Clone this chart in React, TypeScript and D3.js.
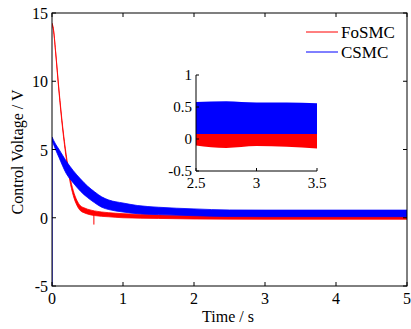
import React, { useEffect, useRef } from 'react';
import * as d3 from 'd3';

// FoSMC (red) envelope
const redTime = [0, 0.02, 0.05, 0.1, 0.15, 0.2, 0.25, 0.3, 0.35, 0.4, 0.45, 0.5, 0.6, 0.8, 1.0, 1.5, 2, 3, 4, 5];
const redLow = [14.15, 13.75, 12.15, 9.12, 6.5, 4.38, 2.75, 1.62, 0.92, 0.52, 0.37, 0.27, 0.16, 0.07, 0.0, -0.05, -0.09, -0.11, -0.11, -0.11];
const redHigh = [14.25, 13.85, 12.25, 9.28, 6.7, 4.62, 3.05, 1.98, 1.28, 0.88, 0.73, 0.63, 0.5, 0.37, 0.3, 0.21, 0.17, 0.15, 0.15, 0.15];
// single downward spike near t = 0.6
const redSpikeTime = [0.59, 0.59];
const redSpikeValue = [0.3, -0.5];

// CSMC (blue) envelope
const blueTime = [0, 0.05, 0.1, 0.2, 0.3, 0.4, 0.5, 0.6, 0.7, 0.8, 1.0, 1.2, 1.5, 2.0, 2.5, 3, 4, 5];
const blueLow = [5.68, 5.0, 4.4, 3.25, 2.55, 1.95, 1.48, 1.1, 0.77, 0.6, 0.42, 0.3, 0.23, 0.15, 0.09, 0.08, 0.08, 0.08];
const blueHigh = [5.92, 5.4, 5.0, 4.15, 3.45, 2.85, 2.32, 1.9, 1.53, 1.3, 1.08, 0.9, 0.77, 0.65, 0.57, 0.56, 0.56, 0.56];
const blueStartTime = [0, 0];
const blueStartValue = [-5, 5.8];

// zoomed inset, 2.5 s .. 3.5 s
const insetTime = [2.5, 2.75, 3, 3.25, 3.5];
const insetBlueLow = [0.08, 0.08, 0.08, 0.08, 0.08];
const insetBlueHigh = [0.58, 0.59, 0.57, 0.57, 0.56];
const insetRedLow = [-0.1, -0.14, -0.11, -0.12, -0.15];
const insetRedHigh = [0.08, 0.08, 0.08, 0.08, 0.08];

const xTicks = [0, 1, 2, 3, 4, 5];
const yTicks = [-5, 0, 5, 10, 15];
const insetXTicks = [2.5, 3, 3.5];
const insetYTicks = [-0.5, 0, 0.5, 1];

const legendNames = ['FoSMC', 'CSMC'];
const legendColors = ['#ff0000', '#0000ff'];

const FONT = '"Liberation Serif", "Times New Roman", serif';

function App() {
  const svgRef = useRef<SVGSVGElement>(null);

  useEffect(() => {
    const width = 411;
    const height = 329;
    const svg = d3.select(svgRef.current).attr('width', width).attr('height', height);
    svg.selectAll('*').remove();

    const left = 52, right = 407, top = 13, bottom = 286;
    const x = d3.scaleLinear().domain([0, 5]).range([left, right]);
    const y = d3.scaleLinear().domain([-5, 15]).range([bottom, top]);

    svg.append('rect').attr('width', width).attr('height', height).attr('fill', 'white');

    const defs = svg.append('defs');
    defs.append('clipPath').attr('id', 'main-clip')
      .append('rect').attr('x', left).attr('y', top).attr('width', right - left).attr('height', bottom - top);

    const plot = svg.append('g').attr('clip-path', 'url(#main-clip)');

    const band = (xs: number[], lo: number[], hi: number[], sx: any, sy: any) =>
      d3.area<number>()
        .x((_, i) => sx(xs[i]))
        .y0((_, i) => sy(lo[i]))
        .y1((_, i) => sy(hi[i]))
        .curve(d3.curveMonotoneX)(xs.map((_, i) => i));

    const line = (xs: number[], vs: number[], sx: any, sy: any) =>
      d3.line<number>().x((_, i) => sx(xs[i])).y((_, i) => sy(vs[i]))(xs.map((_, i) => i));

    // red first, blue on top
    plot.append('path')
      .attr('d', band(redTime, redLow, redHigh, x, y))
      .attr('fill', legendColors[0]).attr('stroke', legendColors[0]).attr('stroke-width', 0.8);
    plot.append('path')
      .attr('d', line(redSpikeTime, redSpikeValue, x, y))
      .attr('stroke', legendColors[0]).attr('stroke-width', 1).attr('fill', 'none');
    plot.append('path')
      .attr('d', band(blueTime, blueLow, blueHigh, x, y))
      .attr('fill', legendColors[1]).attr('stroke', legendColors[1]).attr('stroke-width', 0.8);
    plot.append('path')
      .attr('d', line(blueStartTime, blueStartValue, x, y))
      .attr('stroke', legendColors[1]).attr('stroke-width', 1.2).attr('fill', 'none');

    // main box with inward ticks on all sides
    svg.append('rect')
      .attr('x', left).attr('y', top).attr('width', right - left).attr('height', bottom - top)
      .attr('fill', 'none').attr('stroke', 'black').attr('stroke-width', 1);

    const tickLen = 4;
    xTicks.forEach(t => {
      svg.append('line').attr('x1', x(t)).attr('x2', x(t)).attr('y1', bottom).attr('y2', bottom - tickLen).attr('stroke', 'black');
      svg.append('line').attr('x1', x(t)).attr('x2', x(t)).attr('y1', top).attr('y2', top + tickLen).attr('stroke', 'black');
      svg.append('text').attr('x', x(t)).attr('y', 304)
        .attr('text-anchor', 'middle').attr('font-family', FONT).attr('font-size', 16).text(t);
    });
    yTicks.forEach(v => {
      svg.append('line').attr('x1', left).attr('x2', left + tickLen).attr('y1', y(v)).attr('y2', y(v)).attr('stroke', 'black');
      svg.append('line').attr('x1', right).attr('x2', right - tickLen).attr('y1', y(v)).attr('y2', y(v)).attr('stroke', 'black');
      svg.append('text').attr('x', 48).attr('y', y(v) + 6)
        .attr('text-anchor', 'end').attr('font-family', FONT).attr('font-size', 16).text(v);
    });

    svg.append('text')
      .attr('x', 228).attr('y', 322)
      .attr('text-anchor', 'middle').attr('font-family', FONT).attr('font-size', 16)
      .text('Time / s');
    svg.append('text')
      .attr('transform', `translate(23,152) rotate(-90)`)
      .attr('text-anchor', 'middle').attr('font-family', FONT).attr('font-size', 16)
      .text('Control Voltage / V');

    // legend
    legendNames.forEach((name, i) => {
      const ly = 32 + i * 20;
      svg.append('line').attr('x1', 306).attr('x2', 338).attr('y1', ly).attr('y2', ly)
        .attr('stroke', legendColors[i]).attr('stroke-width', 1);
      svg.append('text').attr('x', 341).attr('y', ly + 6)
        .attr('font-family', FONT).attr('font-size', 17).text(name);
    });

    // inset
    const iLeft = 196, iRight = 317, iTop = 75, iBottom = 171;
    const ix = d3.scaleLinear().domain([2.5, 3.5]).range([iLeft, iRight]);
    const iy = d3.scaleLinear().domain([-0.5, 1]).range([iBottom, iTop]);

    svg.append('rect').attr('x', iLeft).attr('y', iTop).attr('width', iRight - iLeft).attr('height', iBottom - iTop).attr('fill', 'white');
    svg.append('path')
      .attr('d', band(insetTime, insetRedLow, insetRedHigh, ix, iy))
      .attr('fill', legendColors[0]);
    svg.append('path')
      .attr('d', band(insetTime, insetBlueLow, insetBlueHigh, ix, iy))
      .attr('fill', legendColors[1]);

    svg.append('line').attr('x1', iLeft).attr('x2', iLeft).attr('y1', iTop).attr('y2', iBottom).attr('stroke', 'black');
    svg.append('line').attr('x1', iLeft).attr('x2', iRight).attr('y1', iBottom).attr('y2', iBottom).attr('stroke', 'black');
    insetXTicks.forEach(t => {
      svg.append('line').attr('x1', ix(t)).attr('x2', ix(t)).attr('y1', iBottom).attr('y2', iBottom - 3).attr('stroke', 'black');
      svg.append('text').attr('x', ix(t)).attr('y', 188)
        .attr('text-anchor', 'middle').attr('font-family', FONT).attr('font-size', 15).text(t);
    });
    insetYTicks.forEach(v => {
      svg.append('line').attr('x1', iLeft).attr('x2', iLeft + 3).attr('y1', iy(v)).attr('y2', iy(v)).attr('stroke', 'black');
      svg.append('text').attr('x', 192).attr('y', iy(v) + 5)
        .attr('text-anchor', 'end').attr('font-family', FONT).attr('font-size', 15).text(v);
    });
  }, []);

  return <svg ref={svgRef} style={{ position: 'absolute', left: 0, top: 0 }}></svg>;
}

export default App;
